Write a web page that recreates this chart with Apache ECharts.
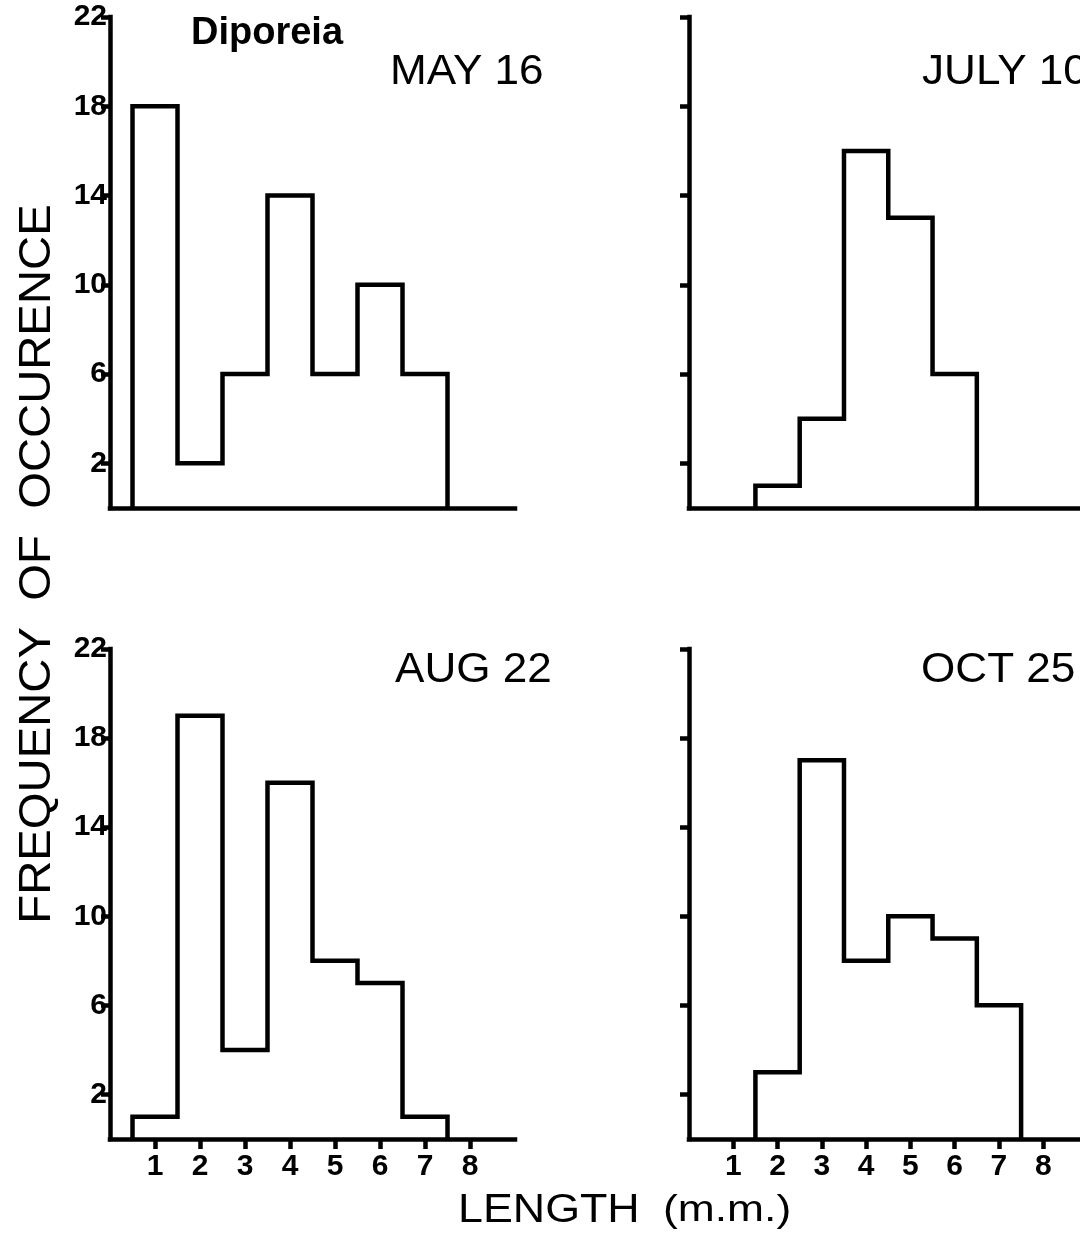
<!DOCTYPE html>
<html>
<head>
<meta charset="utf-8">
<title>Diporeia length frequency</title>
<script src="https://cdn.jsdelivr.net/npm/echarts@6/dist/echarts.min.js"></script>
<style>
  html, body { margin: 0; padding: 0; background: #fff; }
  #main { width: 1080px; height: 1235px; }
</style>
</head>
<body>
<div id="main"></div>
<script>
// length classes (mm), one bar per class, bar spans class +/- 0.5
var lengthBins = [1, 2, 3, 4, 5, 6, 7];
var may16 = [18, 2, 6, 14, 6, 10, 6];
var july10 = [0, 1, 4, 16, 13, 6, 0];
var aug22 = [1, 19, 4, 16, 8, 7, 1];
var oct25 = [0, 3, 17, 8, 10, 9, 6];

var yTicks = [2, 6, 10, 14, 18, 22];
var xTicks = [1, 2, 3, 4, 5, 6, 7, 8];
var panelTitles = ['MAY 16', 'JULY 10', 'AUG 22', 'OCT 25'];

var chartDom = document.getElementById('main');
var myChart = echarts.init(chartDom, null, { renderer: 'canvas' });
var option;

var ink = '#000';
var labelFont = { fontFamily: 'Liberation Sans', fontWeight: 'bold', fontSize: 30, color: ink };

// histogram outline as a stepped line through the class edges
// (empty classes at either end are left off, the axis line covers them)
function outline(values) {
  var first = 0;
  var last = values.length - 1;
  while (first < last && values[first] === 0) first++;
  while (last > first && values[last] === 0) last--;
  var pts = [[lengthBins[first] - 0.5, 0]];
  for (var i = first; i <= last; i++) {
    pts.push([lengthBins[i] - 0.5, values[i]]);
  }
  pts.push([lengthBins[last] + 0.5, 0]);
  return pts;
}

function xAxisFor(gridIndex, max, showLabels) {
  return {
    type: 'value',
    gridIndex: gridIndex,
    min: 0,
    max: max,
    axisLine: { show: true, onZero: false, lineStyle: { color: ink, width: 4.5, cap: 'square' } },
    axisTick: { show: showLabels, length: 10, customValues: xTicks, lineStyle: { color: ink, width: 4.5 } },
    axisLabel: Object.assign({ show: showLabels, margin: 13, customValues: xTicks }, labelFont),
    splitLine: { show: false }
  };
}

function yAxisFor(gridIndex, showLabels) {
  return {
    type: 'value',
    gridIndex: gridIndex,
    min: 0,
    max: 22,
    axisLine: { show: true, lineStyle: { color: ink, width: 4.5, cap: 'square' } },
    axisTick: { show: true, length: 9, customValues: yTicks, lineStyle: { color: ink, width: 4.5 } },
    axisLabel: Object.assign({ show: showLabels, margin: 3, customValues: yTicks }, labelFont),
    splitLine: { show: false }
  };
}

function histSeries(idx, values) {
  return {
    name: panelTitles[idx],
    type: 'line',
    xAxisIndex: idx,
    yAxisIndex: idx,
    step: 'end',
    symbol: 'none',
    silent: true,
    lineStyle: { color: ink, width: 4.5, cap: 'square', join: 'miter' },
    data: outline(values)
  };
}

function panelTitle(text, x, y) {
  return {
    type: 'text',
    x: x,
    y: y,
    scaleX: 1.05,
    style: {
      text: text,
      font: '42px "Liberation Sans"',
      fill: ink,
      textVerticalAlign: 'middle'
    }
  };
}

option = {
  animation: false,
  backgroundColor: '#fff',
  grid: [
    { left: 110, top: 17, width: 405, height: 491 },
    { left: 689, top: 17, width: 391, height: 491 },
    { left: 110, top: 649, width: 405, height: 490 },
    { left: 689, top: 649, width: 391, height: 490 }
  ],
  xAxis: [
    xAxisFor(0, 9, false),
    xAxisFor(1, 8.83, false),
    xAxisFor(2, 9, true),
    xAxisFor(3, 8.83, true)
  ],
  yAxis: [
    yAxisFor(0, true),
    yAxisFor(1, false),
    yAxisFor(2, true),
    yAxisFor(3, false)
  ],
  series: [
    histSeries(0, may16),
    histSeries(1, july10),
    histSeries(2, aug22),
    histSeries(3, oct25)
  ],
  graphic: [
    {
      type: 'text',
      x: 191,
      y: 34,
      style: { text: 'Diporeia', font: 'bold 38px "Liberation Sans"', fill: ink, textVerticalAlign: 'middle' }
    },
    panelTitle(panelTitles[0], 390, 72),
    panelTitle(panelTitles[1], 922, 72),
    panelTitle(panelTitles[2], 395, 670),
    panelTitle(panelTitles[3], 921, 670),
    {
      type: 'text',
      x: 38,
      y: 564,
      rotation: Math.PI / 2,
      scaleX: 1.05,
      style: {
        text: 'FREQUENCY  OF  OCCURENCE',
        font: '45px "Liberation Sans"',
        fill: ink,
        textAlign: 'center',
        textVerticalAlign: 'middle'
      }
    },
    {
      type: 'text',
      x: 458,
      y: 1211,
      scaleX: 1.12,
      style: { text: 'LENGTH', font: '40px "Liberation Sans"', fill: ink, textVerticalAlign: 'middle' }
    },
    {
      type: 'text',
      x: 663,
      y: 1211,
      scaleX: 1.2,
      style: { text: '(m.m.)', font: '37px "Liberation Sans"', fill: ink, textVerticalAlign: 'middle' }
    }
  ]
};

option && myChart.setOption(option);
</script>
</body>
</html>
